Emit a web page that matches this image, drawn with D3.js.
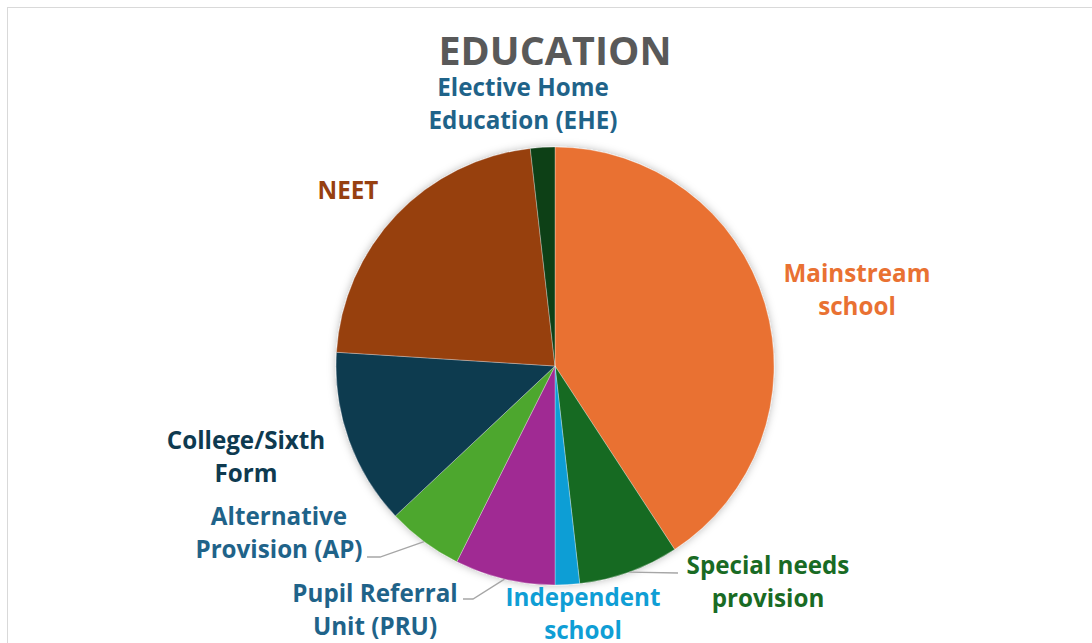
<!DOCTYPE html>
<html>
<head>
<meta charset="utf-8">
<script src="https://cdn.jsdelivr.net/npm/d3@7/dist/d3.min.js"></script>
<style>
  html, body { margin: 0; padding: 0; background: #fff; }
  svg { display: block; }
  text { font-family: "Open Sans", "Liberation Sans", sans-serif; font-weight: 700; }
</style>
</head>
<body>
<svg id="chart" width="1092" height="643"></svg>
<script>
// Education setting breakdown (percent of total)
const categories = [
  "Mainstream school",
  "Special needs provision",
  "Independent school",
  "Pupil Referral Unit (PRU)",
  "Alternative Provision (AP)",
  "College/Sixth Form",
  "NEET",
  "Elective Home Education (EHE)"
];
const values = [40.8, 7.4, 1.8, 7.4, 5.6, 13.0, 22.2, 1.8];
const sliceColors = ["#E97132", "#196B24", "#0F9ED5", "#A02B93", "#4EA72E", "#0E3A50", "#974010", "#0F4016"];
const labelLines = [
  ["Mainstream", "school"],
  ["Special needs", "provision"],
  ["Independent", "school"],
  ["Pupil Referral", "Unit (PRU)"],
  ["Alternative", "Provision (AP)"],
  ["College/Sixth", "Form"],
  ["NEET"],
  ["Elective Home", "Education (EHE)"]
];
const labelColors = ["#E97132", "#196B24", "#0F9ED5", "#1F6389", "#1F6389", "#0E3A50", "#974010", "#1F6389"];
const chartTitle = "EDUCATION";

// Label layout: text centre and optional leader-line elbow
const labelLayout = [
  { x: 857, y: 274 },
  { x: 768, y: 566, leader: [[678, 573]] },
  { x: 583, y: 598 },
  { x: 375, y: 594, leader: [[463, 599], [473, 599]] },
  { x: 279, y: 517, leader: [[367, 557], [380, 557]] },
  { x: 246, y: 441 },
  { x: 348, y: 191 },
  { x: 523, y: 88 }
];

const svg = d3.select("#chart");
const W = 1092, H = 643;
const cx = 555, cy = 366, R = 219;
const lineH = 32.5;

// Chart area border
svg.append("rect")
  .attr("x", 7.5).attr("y", 7.5)
  .attr("width", W + 20).attr("height", H + 20)
  .attr("fill", "#fff").attr("stroke", "#D9D9D9").attr("stroke-width", 1);

// Soft shadow around the pie
const defs = svg.append("defs");
const f = defs.append("filter").attr("id", "pieShadow")
  .attr("x", "-20%").attr("y", "-20%").attr("width", "140%").attr("height", "140%");
f.append("feDropShadow").attr("dx", 0).attr("dy", 0)
  .attr("stdDeviation", 4).attr("flood-color", "#000").attr("flood-opacity", 0.28);

// Title
svg.append("text")
  .attr("x", cx).attr("y", 51)
  .attr("text-anchor", "middle").attr("dy", "0.35em")
  .attr("font-size", 39.5).attr("fill", "#595959")
  .text(chartTitle);

const data = categories.map((c, i) => ({ name: c, value: values[i], i }));
const pie = d3.pie().value(d => d.value).sort(null);
const arcs = pie(data);
const arc = d3.arc().innerRadius(0).outerRadius(R);

const g = svg.append("g").attr("transform", `translate(${cx},${cy})`);
g.append("g").attr("filter", "url(#pieShadow)")
  .selectAll("path").data(arcs).join("path")
  .attr("d", arc)
  .attr("fill", d => sliceColors[d.data.i])
  .attr("stroke", "#ffffff").attr("stroke-width", 0.5).attr("stroke-opacity", 0.6);

// Leader lines from slice edge to label
arcs.forEach(a => {
  const lay = labelLayout[a.data.i];
  if (!lay.leader) return;
  const mid = (a.startAngle + a.endAngle) / 2;
  const edge = [cx + R * Math.sin(mid), cy - R * Math.cos(mid)];
  const pts = lay.leader.concat([edge]);
  svg.append("path")
    .attr("d", d3.line()(pts))
    .attr("fill", "none").attr("stroke", "#A6A6A6").attr("stroke-width", 1.3);
});

// Category labels
arcs.forEach(a => {
  const i = a.data.i;
  const lay = labelLayout[i];
  const t = svg.append("text")
    .attr("text-anchor", "middle")
    .attr("font-size", 24.2)
    .attr("fill", labelColors[i]);
  labelLines[i].forEach((ln, k) => {
    t.append("tspan")
      .attr("x", lay.x).attr("y", lay.y + k * lineH)
      .attr("dy", "0.35em")
      .text(ln);
  });
});
</script>
</body>
</html>
